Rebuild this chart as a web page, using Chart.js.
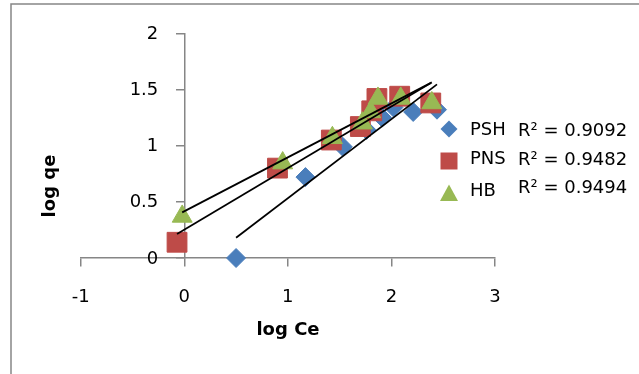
<!DOCTYPE html>
<html>
<head>
<meta charset="utf-8">
<script src="https://cdn.jsdelivr.net/npm/chart.js@4.4.0/dist/chart.umd.min.js"></script>
<style>
  html, body { margin: 0; padding: 0; background: #fff; }
</style>
</head>
<body>
<canvas id="chart" width="639" height="374"></canvas>
<script>
// values (log Ce, log qe)
const seriesNames = ['PSH', 'PNS', 'HB'];
const rSquared = ['R\u00B2 = 0.9092', 'R\u00B2 = 0.9482', 'R\u00B2 = 0.9494'];

const pshX = [0.50, 1.17, 1.53, 1.76, 1.91, 2.02, 2.21, 2.44];
const pshY = [0.00, 0.72, 0.99, 1.14, 1.25, 1.34, 1.30, 1.32];
const pnsX = [-0.07, 0.90, 1.42, 1.70, 1.81, 1.86, 2.08, 2.38];
const pnsY = [0.14, 0.80, 1.05, 1.17, 1.31, 1.42, 1.44, 1.38];
const hbX = [-0.02, 0.95, 1.43, 1.72, 1.80, 1.87, 2.09, 2.39];
const hbY = [0.37, 0.845, 1.07, 1.20, 1.30, 1.42, 1.42, 1.38];

// linear trendline end points
const pshTrendX = [0.50, 2.44];
const pshTrendY = [0.18, 1.545];
const pnsTrendX = [-0.07, 2.38];
const pnsTrendY = [0.213, 1.557];
const hbTrendX = [-0.02, 2.39];
const hbTrendY = [0.406, 1.563];

const xTicks = [-1, 0, 1, 2, 3];
const yTicks = [0, 0.5, 1, 1.5, 2];
const yTickLabels = ['0', '0.5', '1', '1.5', '2'];

const colors = ['#4A7EBB', '#BE4B48', '#98B954'];
const styles = ['rectRot', 'rect', 'triangle'];
const radii = [9.5, 14, 11.5];

function pts(xs, ys) {
    return xs.map((x, i) => ({ x: x, y: ys[i] }));
}

const tickFont = { family: 'DejaVu Sans', size: 18 };
const axisGrey = '#868686';

// Frame, y tick labels (the axis sits at x = 0), axis titles, legend with R²
const extras = {
    id: 'extras',
    afterDraw(chart) {
        const ctx = chart.ctx;
        const xs = chart.scales.x, ys = chart.scales.y;
        ctx.save();
        ctx.strokeStyle = axisGrey;
        ctx.lineWidth = 1.5;
        ctx.strokeRect(11, 4, 700, 400);

        ctx.fillStyle = '#000';
        ctx.font = '18px "DejaVu Sans"';
        ctx.textAlign = 'right';
        ctx.textBaseline = 'middle';
        const x0 = xs.getPixelForValue(0);
        yTicks.forEach((v, i) => {
            ctx.fillText(yTickLabels[i], x0 - 26, ys.getPixelForValue(v) + 1);
        });

        ctx.font = 'bold 18px "DejaVu Sans"';
        ctx.textAlign = 'center';
        ctx.fillText('log Ce', 288, 330);
        ctx.save();
        ctx.translate(50, 186);
        ctx.rotate(-Math.PI / 2);
        ctx.fillText('log qe', 0, 0);
        ctx.restore();

        const markerY = [129, 161, 193];
        const nameY = [130, 159.5, 191];
        const rY = [131, 160, 188];
        ctx.font = '18px "DejaVu Sans"';
        ctx.textAlign = 'left';
        for (let i = 0; i < 3; i++) {
            ctx.fillStyle = colors[i];
            ctx.beginPath();
            const x = 449, y = markerY[i];
            if (styles[i] === 'rectRot') {
                ctx.moveTo(x, y - 8.5); ctx.lineTo(x + 8.5, y);
                ctx.lineTo(x, y + 8.5); ctx.lineTo(x - 8.5, y);
            } else if (styles[i] === 'rect') {
                ctx.rect(x - 8.5, y - 8.5, 17, 17);
            } else {
                ctx.moveTo(x, y - 8.5); ctx.lineTo(x + 9, y + 8);
                ctx.lineTo(x - 9, y + 8);
            }
            ctx.closePath();
            ctx.fill();
            ctx.fillStyle = '#000';
            ctx.fillText(seriesNames[i], 470, nameY[i]);
            ctx.fillText(rSquared[i], 518, rY[i]);
        }
        ctx.restore();
    }
};

function scatterSet(i, xs, ys) {
    return {
        label: seriesNames[i],
        data: pts(xs, ys),
        showLine: false,
        pointStyle: styles[i],
        pointRadius: radii[i],
        backgroundColor: colors[i],
        borderColor: colors[i],
        borderWidth: 1,
        order: 3 - i,
        clip: false
    };
}

function trendSet(xs, ys) {
    return {
        data: pts(xs, ys),
        showLine: true,
        borderColor: '#000',
        borderWidth: 1.75,
        pointRadius: 0,
        order: 0,
        clip: false
    };
}

new Chart(document.getElementById('chart'), {
    type: 'scatter',
    data: {
        datasets: [
            trendSet(pshTrendX, pshTrendY),
            trendSet(pnsTrendX, pnsTrendY),
            trendSet(hbTrendX, hbTrendY),
            scatterSet(0, pshX, pshY),
            scatterSet(1, pnsX, pnsY),
            scatterSet(2, hbX, hbY)
        ]
    },
    options: {
        responsive: false,
        animation: false,
        events: [],
        layout: { padding: { left: 80.7, right: 144, top: 33.3, bottom: 116 } },
        plugins: { legend: { display: false }, tooltip: { enabled: false } },
        scales: {
            x: {
                type: 'linear',
                min: -1, max: 3,
                position: { y: 0 },
                afterBuildTicks: s => { s.ticks = xTicks.map(v => ({ value: v })); },
                afterFit: s => { s.height = 0; },
                grid: { drawOnChartArea: false, drawTicks: true, tickLength: 8, color: axisGrey, lineWidth: 1.5 },
                border: { color: axisGrey, width: 1.5 },
                ticks: { font: tickFont, color: '#000', padding: 21 }
            },
            y: {
                type: 'linear',
                min: 0, max: 2,
                position: { x: 0 },
                afterBuildTicks: s => { s.ticks = yTicks.map(v => ({ value: v })); },
                afterFit: s => { s.width = 0; },
                grid: { drawOnChartArea: false, drawTicks: true, tickLength: 8, color: axisGrey, lineWidth: 1.5 },
                border: { color: axisGrey, width: 1.5 },
                ticks: { display: false }
            }
        }
    },
    plugins: [extras]
});
</script>
</body>
</html>
